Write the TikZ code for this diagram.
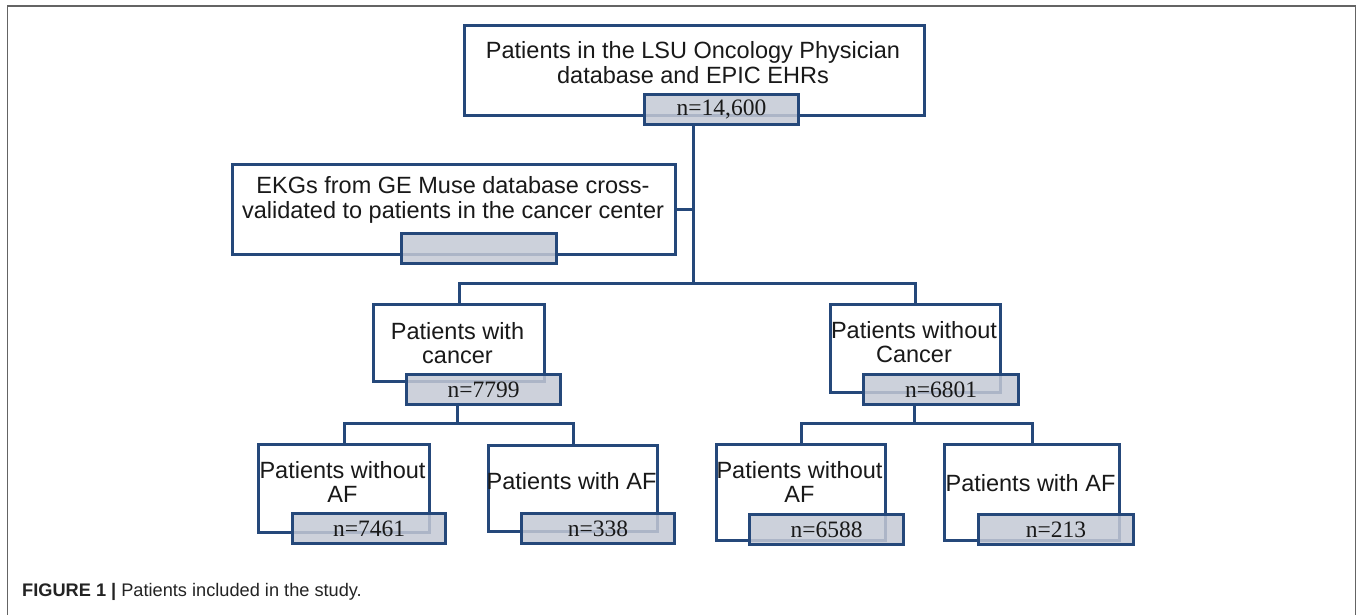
\documentclass[tikz,border=0pt]{standalone}
\usepackage{fontspec}
\setmainfont{Liberation Sans}
\newfontfamily\nfont{Liberation Serif}
\definecolor{bblue}{RGB}{37,72,122}
\definecolor{ngrey}{RGB}{196,201,213}
\definecolor{frameg}{RGB}{100,100,100}
\definecolor{captc}{RGB}{35,35,35}
\definecolor{txtc}{RGB}{25,25,25}
\begin{document}
\begin{tikzpicture}[x=1pt,y=-1pt,
  wbox/.style={draw=bblue, line width=3pt, fill=white, inner sep=0pt, anchor=north west},
  gbox/.style={draw=bblue, line width=3pt, fill=ngrey, fill opacity=0.85, text opacity=1,
    text=txtc, anchor=north west, inner sep=0pt, font=\nfont\fontsize{23.5}{26}\selectfont},
  txt/.style={align=center, inner sep=0pt, text=txtc, font=\fontsize{23.5}{24.5}\selectfont},
  link/.style={draw=bblue, line width=3pt},
  framel/.style={draw=frameg, line width=1.6pt}]
\useasboundingbox (0,0) rectangle (1357,615);
% frame
\coordinate (f1) at (7.5,615);
\coordinate (f2) at (7.5,6);
\coordinate (f3) at (1355.5,6);
\coordinate (f4) at (1355.5,615);
\draw[framel] (f1) -- (f2) -- (f3) -- (f4);
% boxes
\node[wbox, minimum width=460pt, minimum height=90pt] (top) at (463,24) {};
\node[gbox, minimum width=154pt, minimum height=30pt] (topn) at (643,93) {n=14,600};
\node[wbox, minimum width=443pt, minimum height=90pt] (ekg) at (231,163) {};
\node[gbox, minimum width=155pt, minimum height=30pt] (ekgn) at (400,232) {};
\node[wbox, minimum width=171pt, minimum height=77pt] (canc) at (372,303) {};
\node[gbox, minimum width=154pt, minimum height=30pt] (cancn) at (405,373) {n=7799};
\node[wbox, minimum width=170pt, minimum height=88pt] (ncan) at (829,303) {};
\node[gbox, minimum width=155pt, minimum height=30pt] (ncann) at (862,373) {n=6801};
\node[wbox, minimum width=171pt, minimum height=88pt] (l1) at (257,443) {};
\node[gbox, minimum width=153pt, minimum height=30pt] (l1n) at (291,512) {n=7461};
\node[wbox, minimum width=169pt, minimum height=86pt] (l2) at (487,444) {};
\node[gbox, minimum width=153pt, minimum height=30pt] (l2n) at (520,512) {n=338};
\node[wbox, minimum width=169pt, minimum height=96pt] (r1) at (715,443) {};
\node[gbox, minimum width=154pt, minimum height=30pt] (r1n) at (748,513) {n=6588};
\node[wbox, minimum width=175pt, minimum height=96pt] (r2) at (943,443) {};
\node[gbox, minimum width=155pt, minimum height=30pt] (r2n) at (977,513) {n=213};
% texts
\node[txt] (toptxt) at (693,62.5) {Patients in the LSU Oncology Physician\\database and EPIC EHRs};
\node[txt] (ekgtxt) at (453,200) {EKGs from GE Muse database cross-\\validated to patients in the cancer center};
\node[txt] (canctxt) at (457.5,343) {Patients with\\cancer};
\node[txt] (ncantxt) at (914,342) {Patients without\\Cancer};
\node[txt] (l1txt) at (342.5,482) {Patients without\\AF};
\node[txt] (l2txt) at (571.5,481.5) {Patients with AF};
\node[txt] (r1txt) at (799.5,482) {Patients without\\AF};
\node[txt] (r2txt) at (1030.5,483) {Patients with AF};
% connectors
\coordinate (j1) at (693,283);
\coordinate (j2) at (457.5,423);
\coordinate (j3) at (914,423);
\draw[link] (j1 |- topn.south) -- (j1);
\draw[link] (ekg.east) -- (ekg.east -| j1);
\draw[link] (canc.north) |- (j1) -| (ncan.north);
\draw[link] (j2 |- cancn.south) -- (j2);
\draw[link] (l1.north) |- (j2) -| (l2.north);
\draw[link] (j3 |- ncann.south) -- (j3);
\draw[link] (r1.north) |- (j3) -| (r2.north);
% caption
\node[anchor=west, inner sep=0pt, text=captc, font=\fontsize{18.2}{21}\selectfont] (cap) at (22,592)
  {\textbf{FIGURE 1 |} Patients included in the study.};
\end{tikzpicture}
\end{document}
